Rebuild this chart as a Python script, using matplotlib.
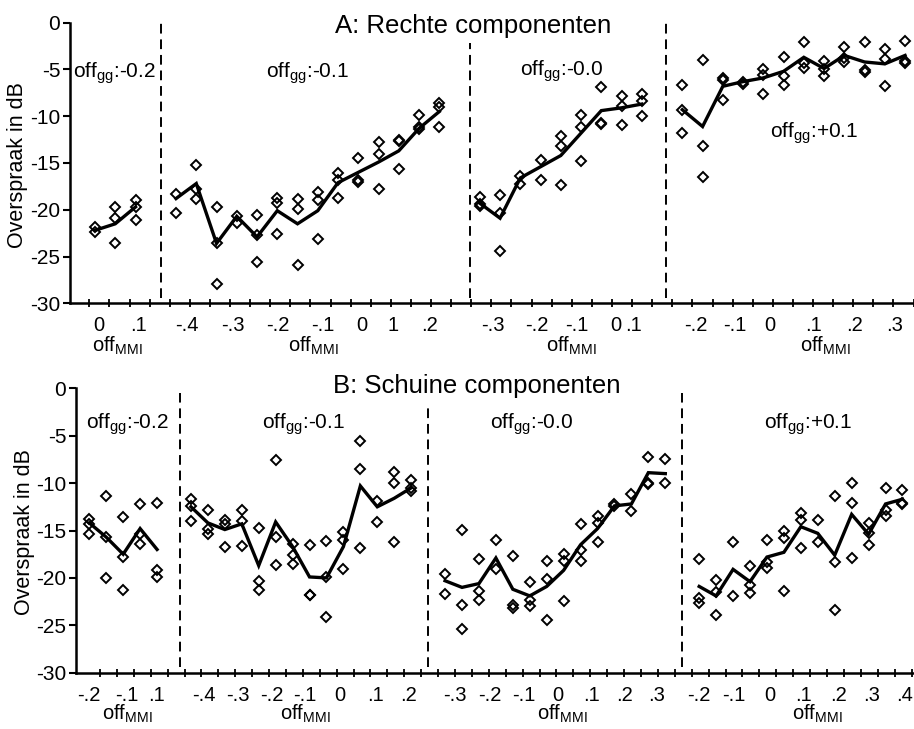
import numpy as np
import matplotlib
matplotlib.use("Agg")
import matplotlib.pyplot as plt

plt.rcParams['font.family'] = ['Liberation Sans', 'DejaVu Sans']
plt.rcParams['mathtext.default'] = 'regular'
plt.rcParams['axes.unicode_minus'] = False

# ---------------- DATA ----------------
# Panel A: Rechte componenten -- one list of repeat measurements per offMMI position
A_gg_labels = ["-0.2", "-0.1", "-0.0", "+0.1"]

A_m02_pts = [[-21.8, -22.4], [-19.7, -20.9, -23.6], [-19.0, -19.7, -21.1]]
A_m02_line = [-22.2, -21.5, -19.7]

A_m01_pts = [[-18.3, -20.3], [-15.2, -17.8, -18.9], [-19.7, -23.5, -27.9],
             [-20.7, -21.4], [-20.6, -22.7, -25.6], [-18.7, -19.3, -22.6],
             [-18.8, -19.9, -25.9], [-18.1, -19.0, -23.1], [-16.1, -16.8, -18.7],
             [-14.5, -16.8, -17.0], [-12.8, -14.0, -17.8], [-12.5, -12.6, -15.6],
             [-9.9, -11.1, -11.4], [-8.6, -9.0, -11.2]]
A_m01_line = [-18.8, -17.2, -23.6, -20.7, -22.9, -20.1, -21.5, -20.1, -17.1,
              -16.0, -14.9, -13.7, -11.3, -9.5]

A_m00_pts = [[-18.6, -19.4, -19.6], [-18.4, -20.3, -24.4], [-16.4, -17.2],
             [-14.7, -16.8], [-12.1, -13.2, -17.4], [-9.9, -11.1, -14.8],
             [-6.9, -10.7, -10.8], [-7.8, -8.9, -10.9], [-7.6, -8.4, -10.0]]
A_m00_line = [-19.3, -20.9, -16.6, -15.4, -14.2, -11.8, -9.4, -9.1, -8.7]

A_p01_pts = [[-6.7, -9.3, -11.8], [-4.0, -13.2, -16.5], [-5.9, -6.1, -8.3],
             [-6.3, -6.6], [-5.0, -5.6, -7.6], [-3.7, -5.7, -6.7],
             [-2.1, -4.3, -4.8], [-4.1, -4.9, -5.7], [-2.6, -3.8, -4.2],
             [-2.1, -5.1, -5.3], [-2.8, -3.9, -6.8], [-2.0, -4.1, -4.3]]
A_p01_line = [-9.3, -11.1, -6.8, -6.3, -5.9, -5.2, -3.7, -4.9, -3.5, -4.2, -4.4, -3.5]

A_ticklabels = [["0", ".1"],
                ["-.4", "-.3", "-.2", "-.1", "0", "1", ".2"],
                ["-.3", "-.2", "-.1", "0", ".1"],
                ["-.2", "-.1", "0", ".1", ".2", ".3"]]

# Panel B: Schuine componenten
B_gg_labels = ["-0.2", "-0.1", "-0.0", "+0.1"]

B_m02_pts = [[-13.8, -14.3, -15.4], [-11.4, -15.7, -20.0], [-13.6, -17.8, -21.3],
             [-12.2, -15.4, -16.4], [-12.1, -19.2, -19.9]]
B_m02_line = [-14.2, -15.7, -17.5, -14.8, -17.0]

B_m01_pts = [[-11.7, -12.4, -14.0], [-12.8, -14.8, -15.4], [-13.9, -14.3, -16.7],
             [-12.8, -14.0, -16.6], [-14.7, -20.3, -21.3], [-7.6, -15.7, -18.6],
             [-16.4, -17.6, -18.5], [-16.5, -21.8, -21.8], [-16.1, -19.9, -24.1],
             [-15.2, -16.0, -19.1], [-5.6, -8.5, -16.8], [-11.9, -14.1],
             [-8.8, -10.0, -16.2], [-9.7, -10.5, -10.8]]
B_m01_line = [-12.5, -14.2, -14.9, -14.3, -18.7, -14.1, -16.7, -19.9, -20.0,
              -16.7, -10.3, -12.5, -11.6, -10.5]

B_m00_pts = [[-19.6, -21.7], [-14.9, -22.9, -25.4], [-18.0, -21.4, -22.3],
             [-16.0, -19.1], [-17.7, -22.9, -23.2], [-20.4, -22.3, -23.0],
             [-18.2, -20.1, -24.4], [-17.5, -18.2, -22.4], [-14.3, -17.1, -18.2],
             [-13.5, -14.2, -16.2], [-12.2, -12.4], [-11.2, -12.9],
             [-7.2, -10.0, -10.1], [-7.5, -10.0]]
B_m00_line = [-20.3, -21.0, -20.6, -17.9, -21.2, -21.9, -20.9, -19.2, -16.5,
              -14.8, -12.4, -12.2, -8.9, -9.0]

B_p01_pts = [[-18.0, -22.1, -22.6], [-20.2, -21.5, -23.9], [-16.2, -21.9],
             [-18.7, -20.7, -21.6], [-16.0, -18.3, -19.0], [-15.1, -15.8, -21.4],
             [-13.2, -13.9, -16.8], [-13.9, -16.2], [-11.4, -18.3, -23.4],
             [-10.0, -12.1, -17.9], [-14.2, -15.3, -16.5], [-10.5, -12.8, -13.5],
             [-10.7, -12.1, -12.2]]
B_p01_line = [-20.9, -21.9, -19.1, -20.4, -17.8, -17.3, -14.6, -15.3, -17.6,
              -13.3, -15.4, -12.2, -11.7]

B_ticklabels = [["-.2", "-.1", ".1"],
                ["-.4", "-.3", "-.2", "-.1", "0", ".1", ".2"],
                ["-.3", "-.2", "-.1", "0", ".1", ".2", ".3"],
                ["-.2", "-.1", "0", ".1", ".2", ".3", ".4"]]

yticks = [0, -5, -10, -15, -20, -25, -30]

# ---------------- LAYOUT ----------------
panels = [
    dict(title="A: Rechte componenten",
         pts=[A_m02_pts, A_m01_pts, A_m00_pts, A_p01_pts],
         lines=[A_m02_line, A_m01_line, A_m00_line, A_p01_line],
         gg=A_gg_labels, ticklabels=A_ticklabels,
         rect=[70 / 914, 1 - 303.3 / 729, 844 / 914, 280.6 / 729],
         xlim=(-1.235, 40.44),
         tickpos=[[0.21, 2.14], [4.53, 6.83, 9.05, 11.27, 13.17, 14.73, 16.54],
                  [19.67, 21.8, 23.8, 25.7, 26.6], [29.68, 31.6, 33.3, 35.47, 37.5, 39.5]],
         minor=-0.28 + np.arange(0, 42) * 0.9926,
         dividers=[3.26, 18.52, 28.2], div_top=[0, -2.2, 0], div_bot=-29.4,
         title_xy=(18.67, -1.13),
         gg_xy=[(0.94, -5.84), (10.49, -5.84), (23.06, -5.7), (35.53, -12.26)],
         mmi_x=[1.10, 10.77, 23.54, 36.08], mmi_y=-35.2,
         ylab_x=-0.0494),
    dict(title="B: Schuine componenten",
         pts=[B_m02_pts, B_m01_pts, B_m00_pts, B_p01_pts],
         lines=[B_m02_line, B_m01_line, B_m00_line, B_p01_line],
         gg=B_gg_labels, ticklabels=B_ticklabels,
         rect=[76 / 914, 1 - 672.7 / 729, 838 / 914, 284.4 / 729],
         xlim=(-0.785, 48.68),
         tickpos=[[0.0, 2.21, 3.98], [6.77, 8.78, 10.77, 12.73, 14.76, 16.87, 18.83],
                  [21.59, 23.65, 25.62, 27.63, 29.66, 31.62, 33.5],
                  [35.95, 38.02, 40.18, 42.15, 44.21, 46.19, 48.15]],
         minor=0.63 + np.arange(0, 49) * 0.998,
         dividers=[5.35, 20.01, 34.97], div_top=[-0.5, -1.9, -0.5], div_bot=-29.4,
         title_xy=(22.89, -0.53),
         gg_xy=[(2.28, -4.22), (12.62, -4.22), (26.13, -4.22), (42.43, -4.22)],
         mmi_x=[2.24, 12.77, 27.92, 42.98], mmi_y=-35.0,
         ylab_x=-0.0494),
]

FS_YT = 15
FS_XT = 14.5
FS_LAB = 15.5
FS_GG = 15
FS_MMI = 14.5
fig = plt.figure(figsize=(9.14, 7.29), dpi=100)

for P in panels:
    ax = fig.add_axes(P["rect"])
    start = 0
    for g, (gpts, gline) in enumerate(zip(P["pts"], P["lines"])):
        xs = np.arange(start, start + len(gline))
        for x, vals in zip(xs, gpts):
            ax.plot([x] * len(vals), vals, linestyle='none', marker='D', ms=5.3,
                    mfc='none', mec='black', mew=1.4, zorder=3)
        ax.plot(xs, gline, color='black', lw=2.4, zorder=4, solid_joinstyle='miter')
        start += len(gline) + 1

    for xd, top in zip(P["dividers"], P["div_top"]):
        ax.plot([xd, xd], [P["div_bot"], top], color='black', lw=1.4,
                linestyle=(0, (5, 3)), zorder=2)

    ax.set_xlim(*P["xlim"])
    ax.set_ylim(-30, 0)
    ax.set_yticks(yticks)
    ax.set_yticklabels([str(v) for v in yticks], fontsize=FS_YT)

    pos = [p for grp in P["tickpos"] for p in grp]
    labs = [l for grp in P["ticklabels"] for l in grp]
    ax.set_xticks(pos)
    ax.set_xticklabels(labs, fontsize=FS_XT)
    ax.set_xticks(P["minor"], minor=True)
    ax.tick_params(axis='x', which='major', length=0, pad=9.5)
    ax.tick_params(axis='x', which='minor', direction='inout', length=6, width=1.3)
    ax.tick_params(axis='y', which='major', direction='out', length=5, width=1.5, pad=2)

    for s in ['top', 'right']:
        ax.spines[s].set_visible(False)
    for s in ['left', 'bottom']:
        ax.spines[s].set_linewidth(1.8)

    ax.set_ylabel("Overspraak in dB", fontsize=FS_LAB)
    ax.yaxis.set_label_coords(P["ylab_x"], 0.493)

    ax.text(P["title_xy"][0], P["title_xy"][1], P["title"], fontsize=18.5,
            ha='center', va='baseline')
    for (gx, gy), lab in zip(P["gg_xy"], P["gg"]):
        ax.text(gx, gy, r'off$_{gg}$:' + lab, fontsize=FS_GG, ha='center', va='baseline')
    for mx in P["mmi_x"]:
        ax.text(mx, P["mmi_y"], r'off$_{MMI}$', fontsize=FS_MMI, ha='center',
                va='baseline', clip_on=False)

fig.savefig("out.png", dpi=100)
